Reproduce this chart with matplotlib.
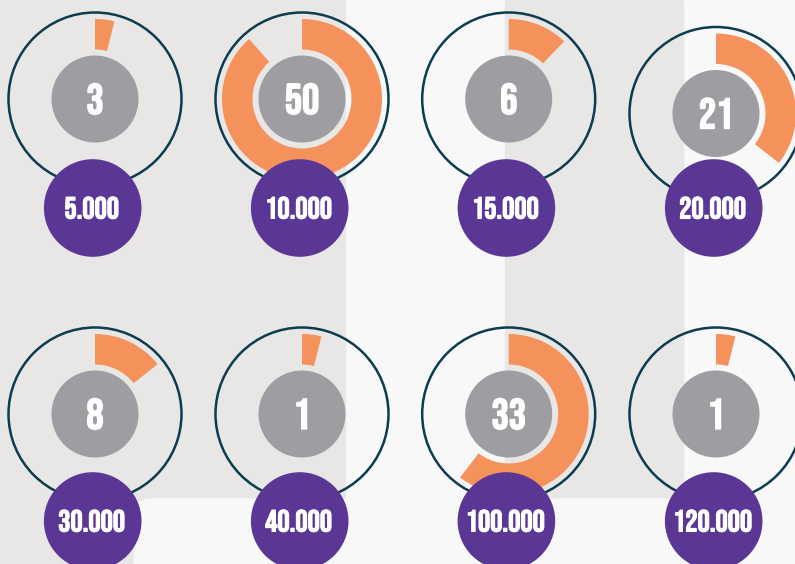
import matplotlib.pyplot as plt
import matplotlib.patheffects as pe
from matplotlib.patches import Circle, Wedge, Rectangle, FancyBboxPatch

# values shown in the grey discs
counts = [3, 50, 6, 21, 8, 1, 33, 1]
# share of the ring filled in orange (percent of full circle)
arc_share = [3.9, 88.5, 12.2, 35.6, 14.3, 3.9, 60.4, 3.9]
# labels in the purple discs
amounts = ['5.000', '10.000', '15.000', '20.000',
           '30.000', '40.000', '100.000', '120.000']

TEAL = '#0b3c4f'
ORANGE = '#f5915b'
PURPLE = '#5a3794'
GREY = '#9e9da1'
BG_DARK = '#e9e7e6'
BG_LIGHT = '#f8f8f8'

FONT = ['Bebas Neue', 'Oswald', 'DejaVu Sans']

fig = plt.figure(figsize=(7.95, 5.64), dpi=100, facecolor=BG_LIGHT)
ax = fig.add_axes([0, 0, 1, 1])
ax.set_xlim(0, 795)
ax.set_ylim(564, 0)
ax.set_aspect('equal')
ax.axis('off')

# background panels
ax.add_patch(Rectangle((0, 0), 345, 564, color=BG_DARK, zorder=0))
ax.add_patch(Rectangle((505, 0), 178, 564, color=BG_DARK, zorder=0))
ax.add_patch(FancyBboxPatch((134, 499), 700, 100,
                            boxstyle='round,pad=0,rounding_size=18',
                            color=BG_LIGHT, zorder=0.5))

col_x = [95, 302, 508.7, 716]
row_y = [99, 414]
disc_y = [208, 521]

for i, (n, share, amt) in enumerate(zip(counts, arc_share, amounts)):
    r, c = divmod(i, 4)
    cx = col_x[c]
    cy = row_y[r] + (14.5 if (r == 0 and c == 3) else 0)

    ax.add_patch(Circle((cx, cy), 86.5, fill=False, ec=TEAL, lw=1.8, zorder=2))
    sweep = share / 100 * 360
    ax.add_patch(Wedge((cx, cy), 80, -90, -90 + sweep, width=30.5,
                       color=ORANGE, lw=0, zorder=3))
    ax.add_patch(Circle((cx, cy), 43.5, color=GREY, lw=0, zorder=4))
    ax.text(cx, cy + 15, str(n), color='white', fontsize=31,
            family=FONT, ha='center', va='baseline', zorder=5,
            path_effects=[pe.withStroke(linewidth=1.0, foreground='white')])

    px, py = cx - 2.3, disc_y[r]
    ax.add_patch(Circle((px, py), 48.8, color=PURPLE, lw=0, zorder=6))
    ax.text(px - 1, py + 10.5, amt, color='white', fontsize=22,
            family=FONT, ha='center', va='baseline', zorder=7,
            path_effects=[pe.withStroke(linewidth=0.8, foreground='white')])

fig.savefig('out.png', dpi=100, facecolor=BG_LIGHT)
